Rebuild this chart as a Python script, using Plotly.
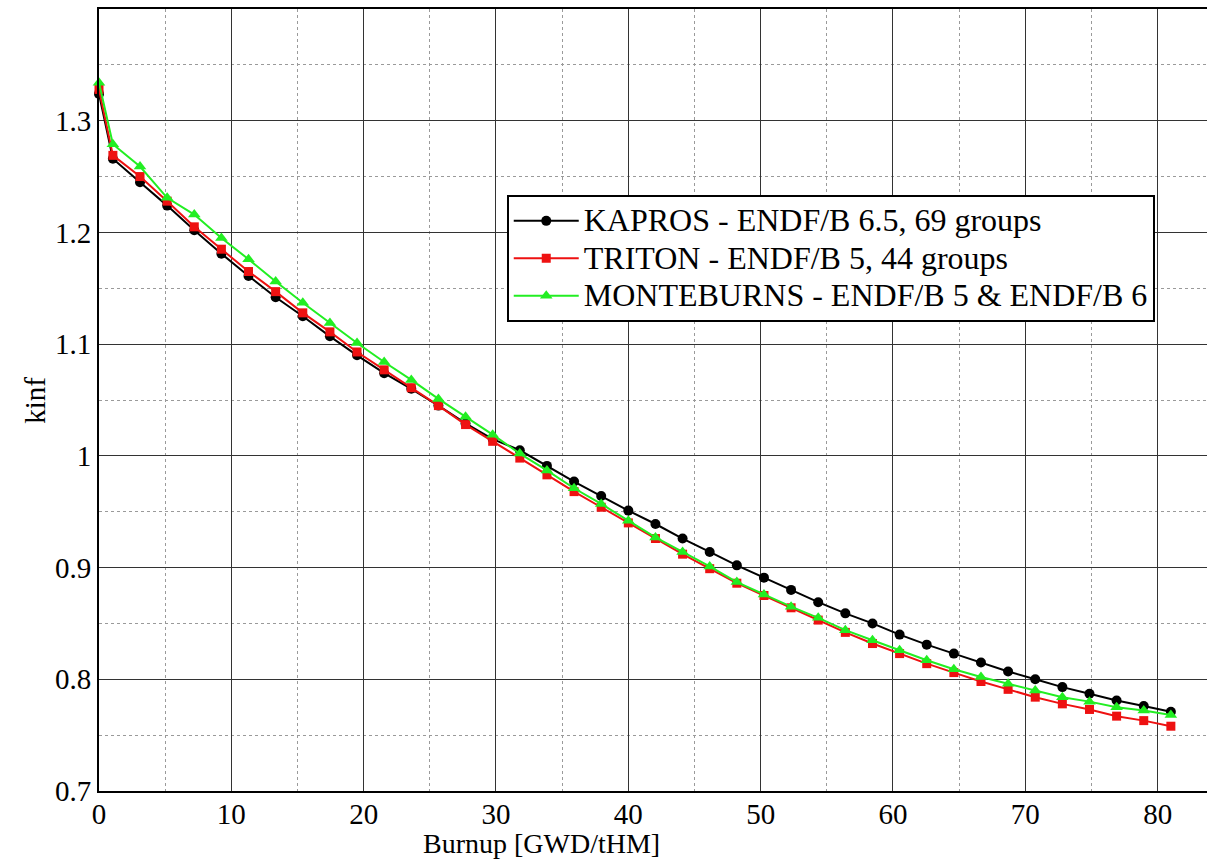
import plotly.graph_objects as go

# Burnup steps [GWD/tHM]
burnup = [0.00, 1.05, 3.10, 5.15, 7.20, 9.25, 11.30, 13.35, 15.40, 17.45,
          19.50, 21.55, 23.60, 25.65, 27.70, 29.75, 31.80, 33.85, 35.90, 37.95,
          40.00, 42.05, 44.10, 46.15, 48.20, 50.25, 52.30, 54.35, 56.40, 58.45,
          60.50, 62.55, 64.60, 66.65, 68.70, 70.75, 72.80, 74.85, 76.90, 78.95,
          81.00]

kinf_kapros = [1.324, 1.266, 1.245, 1.224, 1.202, 1.181, 1.161, 1.142, 1.125, 1.107,
               1.090, 1.074, 1.060, 1.045, 1.029, 1.015, 1.005, 0.991, 0.977, 0.964,
               0.951, 0.939, 0.926, 0.914, 0.902, 0.891, 0.880, 0.869, 0.859, 0.850,
               0.840, 0.831, 0.823, 0.815, 0.807, 0.800, 0.793, 0.787, 0.781, 0.776,
               0.771]

kinf_triton = [1.328, 1.269, 1.250, 1.228, 1.205, 1.185, 1.165, 1.147, 1.128, 1.111,
               1.093, 1.077, 1.061, 1.045, 1.028, 1.013, 0.998, 0.983, 0.968, 0.954,
               0.940, 0.926, 0.912, 0.899, 0.886, 0.875, 0.864, 0.853, 0.842, 0.832,
               0.823, 0.814, 0.806, 0.798, 0.791, 0.784, 0.778, 0.773, 0.767, 0.763,
               0.758]

kinf_monteburns = [1.334, 1.279, 1.259, 1.231, 1.216, 1.195, 1.176, 1.156, 1.137, 1.119,
                   1.101, 1.084, 1.068, 1.051, 1.035, 1.019, 1.002, 0.987, 0.971, 0.957,
                   0.942, 0.927, 0.914, 0.901, 0.887, 0.876, 0.865, 0.855, 0.844, 0.835,
                   0.826, 0.817, 0.809, 0.802, 0.796, 0.790, 0.784, 0.780, 0.775, 0.772,
                   0.768]

series_names = ["KAPROS - ENDF/B 6.5, 69 groups",
                "TRITON - ENDF/B 5, 44 groups",
                "MONTEBURNS - ENDF/B 5 & ENDF/B 6"]

x_ticks = [0, 10, 20, 30, 40, 50, 60, 70, 80]
y_ticks = [0.7, 0.8, 0.9, 1.0, 1.1, 1.2, 1.3]

FONT = "Liberation Serif"
tick_font = dict(family=FONT, size=29, color="black")

fig = go.Figure()

styles = [
    (kinf_kapros, "#000000", "circle", 10),
    (kinf_triton, "#ee1111", "square", 9),
    (kinf_monteburns, "#22ee22", "triangle-up", 11),
]
for (vals, color, symbol, size), name in zip(styles, series_names):
    fig.add_trace(go.Scatter(
        x=burnup, y=vals, mode="lines+markers",
        # legend rows stay compact while the label itself is drawn larger
        name='<span style="font-size:32px">' + name + "</span>",
        line=dict(color=color, width=2),
        marker=dict(color=color, symbol=symbol, size=size),
        cliponaxis=False,
    ))

fig.update_layout(
    width=1207, height=861,
    margin=dict(l=99, r=0, t=9, b=70),
    paper_bgcolor="white", plot_bgcolor="white",
    font=dict(family=FONT, size=28, color="black"),
    showlegend=True,
    legend=dict(
        x=0.368, y=0.762, xanchor="left", yanchor="top",
        bgcolor="white", bordercolor="black", borderwidth=2,
        font=dict(family=FONT, size=26.5, color="black"),
        itemwidth=65,
    ),
    xaxis=dict(
        range=[0, 83.73], tickvals=x_ticks, tickfont=tick_font,
        ticklabelstandoff=-4,
        showline=True, linecolor="black", linewidth=2, mirror=True,
        showgrid=True, gridcolor="#333333", gridwidth=1.4,
        zeroline=False, ticks="",
        minor=dict(tickmode="linear", tick0=0, dtick=5, showgrid=True,
                   gridcolor="#9a9a9a", gridwidth=1, griddash="dot"),
    ),
    yaxis=dict(
        range=[0.7, 1.4], tickvals=y_ticks, tickfont=tick_font,
        showline=True, linecolor="black", linewidth=2, mirror=False,
        showgrid=True, gridcolor="#333333", gridwidth=1.4,
        zeroline=False, ticks="",
        minor=dict(tickmode="linear", tick0=0.7, dtick=0.05, showgrid=True,
                   gridcolor="#9a9a9a", gridwidth=1, griddash="dot"),
    ),
    annotations=[
        dict(text="Burnup [GWD/tHM]", xref="paper", yref="paper",
             x=0.399, y=-0.0895, xanchor="center", yanchor="bottom",
             showarrow=False, font=dict(family=FONT, size=28, color="black")),
        dict(text="kinf", xref="paper", yref="paper",
             x=-0.058, y=0.5, xanchor="center", yanchor="middle",
             textangle=-90, showarrow=False,
             font=dict(family=FONT, size=29, color="black")),
    ],
)

fig.write_html("out.html")
